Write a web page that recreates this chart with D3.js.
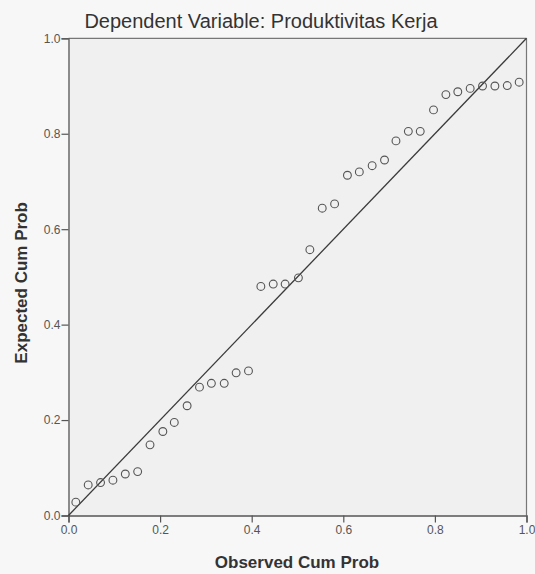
<!DOCTYPE html>
<html><head><meta charset="utf-8">
<script src="https://cdn.jsdelivr.net/npm/d3@7"></script>
<style>html,body{margin:0;padding:0;background:#f6f6f6;}svg{display:block;}</style>
</head><body>
<svg id="c" width="535" height="574"></svg>
<script>
const title = "Dependent Variable: Produktivitas Kerja";
const xLabel = "Observed Cum Prob";
const yLabel = "Expected Cum Prob";
const tickValues = [0, 0.2, 0.4, 0.6, 0.8, 1.0];
const observed = [0.016,0.043,0.070,0.097,0.124,0.151,0.178,0.206,0.231,0.259,0.286,0.312,0.340,0.366,0.393,
  0.420,0.447,0.473,0.502,0.527,0.554,0.581,0.609,0.635,0.663,0.690,0.715,0.742,0.768,0.797,0.824,0.850,0.877,0.904,0.931,0.958,0.984];
const expected = [0.028,0.064,0.069,0.074,0.087,0.092,0.148,0.176,0.195,0.230,0.269,0.277,0.277,0.299,0.303,
  0.480,0.485,0.485,0.498,0.557,0.644,0.653,0.713,0.720,0.733,0.745,0.785,0.805,0.805,0.850,0.882,0.888,0.895,0.900,0.900,0.901,0.908];

const svg = d3.select("#c");
const L = 68.5, R = 526.5, T = 38.3, B = 515.5;
const x = d3.scaleLinear().domain([0,1]).range([L,R]);
const y = d3.scaleLinear().domain([0,1]).range([B,T]);

svg.append("rect").attr("x",0).attr("y",0).attr("width",535).attr("height",574).attr("fill","#f7f7f7");
svg.append("rect").attr("x",L).attr("y",T).attr("width",R-L).attr("height",B-T).attr("fill","#f0f0f0");

// frame top/right
svg.append("line").attr("x1",L).attr("x2",R).attr("y1",T).attr("y2",T).attr("stroke","#777").attr("stroke-width",1.2);
svg.append("line").attr("x1",R).attr("x2",R).attr("y1",T).attr("y2",B).attr("stroke","#777").attr("stroke-width",1.2);

const fmt = d3.format(".1f");
const gx = svg.append("g").attr("transform",`translate(0,${B})`)
  .call(d3.axisBottom(x).tickValues(tickValues).tickFormat(fmt).tickSizeOuter(0).tickSize(7).tickPadding(3));
const gy = svg.append("g").attr("transform",`translate(${L},0)`)
  .call(d3.axisLeft(y).tickValues(tickValues).tickFormat(fmt).tickSizeOuter(0).tickSize(7).tickPadding(1));
[gx,gy].forEach(g=>{
  g.select(".domain").attr("stroke","#555").attr("stroke-width",1.3);
  g.selectAll(".tick line").attr("stroke","#555").attr("stroke-width",1.2);
  g.selectAll(".tick text").attr("fill","#555").style("font-family","Liberation Sans, Arial, sans-serif").style("font-size","12px");
});

// diagonal
svg.append("line").attr("x1",x(0)).attr("y1",y(0)).attr("x2",x(1)).attr("y2",y(1))
  .attr("stroke","#3a3a3a").attr("stroke-width",1.3);

svg.append("g").selectAll("circle").data(observed.map((o,i)=>[o,expected[i]])).join("circle")
  .attr("cx",d=>x(d[0])).attr("cy",d=>y(d[1])).attr("r",3.9)
  .attr("fill","none").attr("stroke","#555").attr("stroke-width",1.1);

svg.append("text").attr("x",261).attr("y",28).attr("text-anchor","middle")
  .style("font-family","Liberation Sans, Arial, sans-serif").style("font-size","20px").attr("fill","#333").text(title);
svg.append("text").attr("x",297).attr("y",568).attr("text-anchor","middle")
  .style("font-family","Liberation Sans, Arial, sans-serif").style("font-size","17px").style("font-weight","bold").attr("fill","#333").text(xLabel);
svg.append("text").attr("transform",`translate(27,${(T+B)/2+6}) rotate(-90)`).attr("text-anchor","middle")
  .style("font-family","Liberation Sans, Arial, sans-serif").style("font-size","17px").style("font-weight","bold").attr("fill","#333").text(yLabel);
</script>
</body></html>
